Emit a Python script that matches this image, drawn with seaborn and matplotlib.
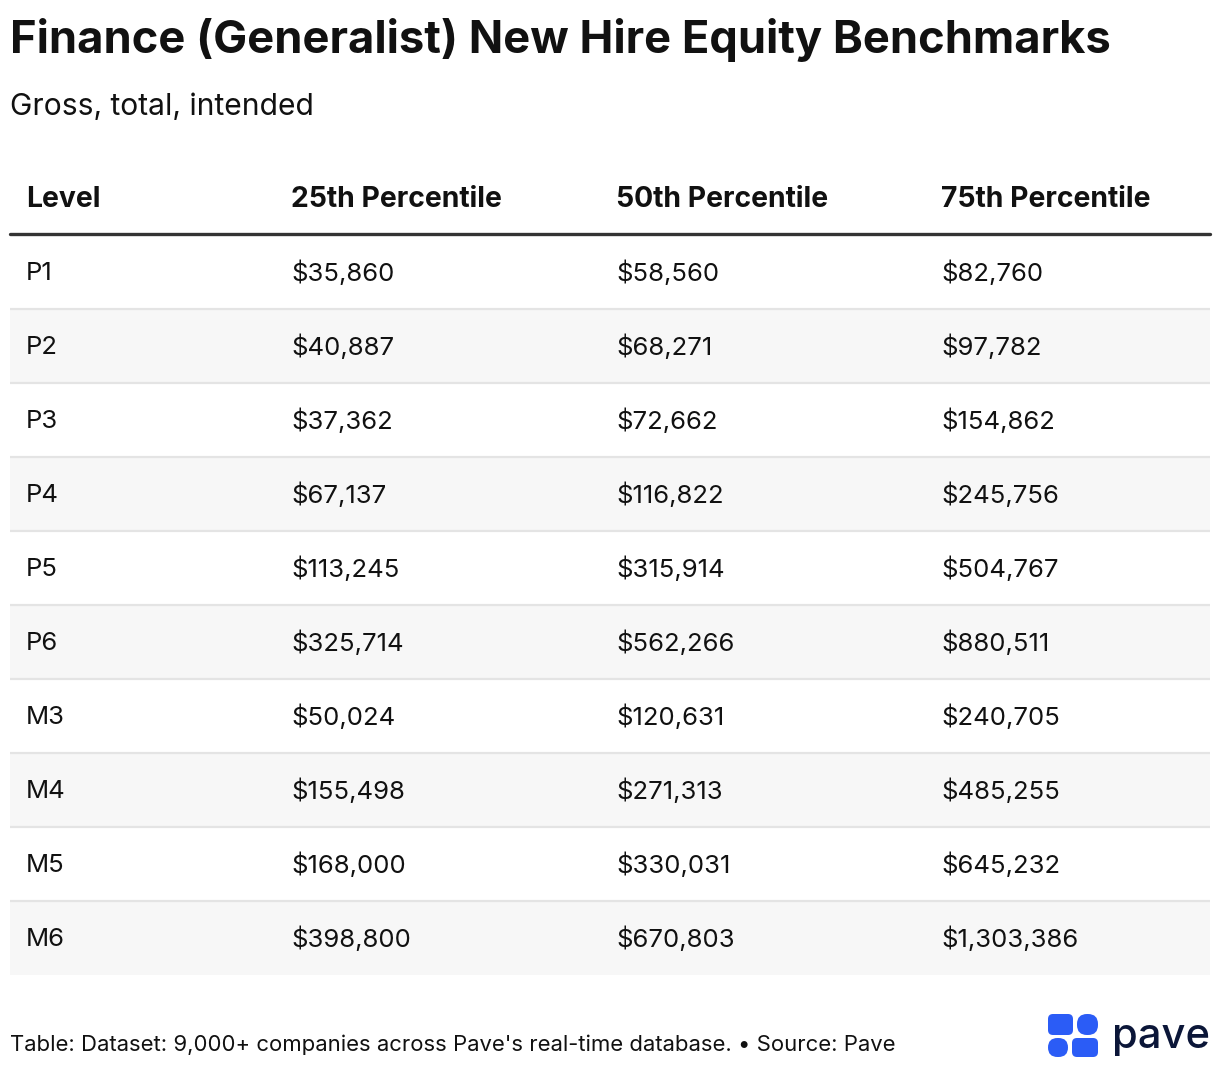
import numpy as np
import pandas as pd
import matplotlib
matplotlib.use("Agg")
import matplotlib.pyplot as plt
from matplotlib.colors import ListedColormap
from matplotlib.patches import FancyBboxPatch
import seaborn as sns

# table data
levels = ["P1", "P2", "P3", "P4", "P5", "P6", "M3", "M4", "M5", "M6"]
p25 = [35860, 40887, 37362, 67137, 113245, 325714, 50024, 155498, 168000, 398800]
p50 = [58560, 68271, 72662, 116822, 315914, 562266, 120631, 271313, 330031, 670803]
p75 = [82760, 97782, 154862, 245756, 504767, 880511, 240705, 485255, 645232, 1303386]
columns = ["Level", "25th Percentile", "50th Percentile", "75th Percentile"]

title = "Finance (Generalist) New Hire Equity Benchmarks"
subtitle = "Gross, total, intended"
footer = "Table: Dataset: 9,000+ companies across Pave's real-time database. \u2022 Source: Pave"

df = pd.DataFrame({"Level": levels, "25th Percentile": p25,
                   "50th Percentile": p50, "75th Percentile": p75})

sns.set_theme(style="white")
plt.rcParams["font.family"] = ["Inter", "DejaVu Sans"]

W, H = 1220, 1068
fig = plt.figure(figsize=(W / 100, H / 100), dpi=100)
fig.patch.set_facecolor("white")

def fx(x):
    return x / W

def fy(y):
    return 1 - y / H

# layout (pixels)
tbl_left, tbl_right = 10, 1210
tbl_top, row_h = 235, 74
col_x = [26, 291, 616, 941]
text_color = "#111111"

# striped body via heatmap
n = len(df)
stripes = np.tile((np.arange(n) % 2)[:, None], (1, 4))
ax = fig.add_axes([fx(tbl_left), fy(tbl_top + n * row_h),
                   (tbl_right - tbl_left) / W, n * row_h / H])
sns.heatmap(stripes, cmap=ListedColormap(["#ffffff", "#f7f7f7"]), cbar=False,
            xticklabels=False, yticklabels=False, ax=ax, vmin=0, vmax=1)
for i in range(1, n):
    ax.axhline(i, color="#e4e4e4", lw=1.6)

# header line
fig.add_artist(plt.Line2D([fx(tbl_left), fx(tbl_right)], [fy(233.5), fy(233.5)],
                          color="#333333", lw=2.4))

fig.text(fx(10), fy(40), title, fontsize=32.6, fontweight="bold",
         color=text_color, va="center", ha="left")
fig.text(fx(10), fy(107), subtitle, fontsize=21.6, color=text_color,
         va="center", ha="left")

for cx, col in zip(col_x, columns):
    fig.text(fx(cx), fy(199), col, fontsize=20.4, fontweight="bold",
             color=text_color, va="center", ha="left")

for i, row in df.iterrows():
    yc = tbl_top + row_h * i + row_h / 2 + 1
    for cx, col in zip(col_x, columns):
        val = row[col]
        s = val if col == "Level" else f"${val:,}"
        fig.text(fx(cx), fy(yc), s, fontsize=18.5, color=text_color,
                 va="center", ha="left")

fig.text(fx(10), fy(1045), footer, fontsize=15.9, color=text_color,
         va="center", ha="left")

# logo
logo = fig.add_axes([0, 0, 1, 1], facecolor="none")
logo.set_xlim(0, W)
logo.set_ylim(H, 0)
logo.axis("off")
blue = "#2b5cf6"
for (x0, y0, w, h, r) in [(1048, 1014, 25, 21, 5), (1077, 1014, 21, 21, 10),
                          (1048, 1038, 20, 19, 9.5), (1072, 1038, 26, 19, 5)]:
    logo.add_patch(FancyBboxPatch((x0 + r, y0 + r), w - 2 * r, h - 2 * r,
                                  boxstyle=f"round,pad={r}", fc=blue, ec="none"))
logo.text(1112, 1037, "pave", fontsize=30, color="#0b1638", fontweight="medium",
          va="center", ha="left")

fig.savefig("out.png", dpi=100, facecolor="white")
